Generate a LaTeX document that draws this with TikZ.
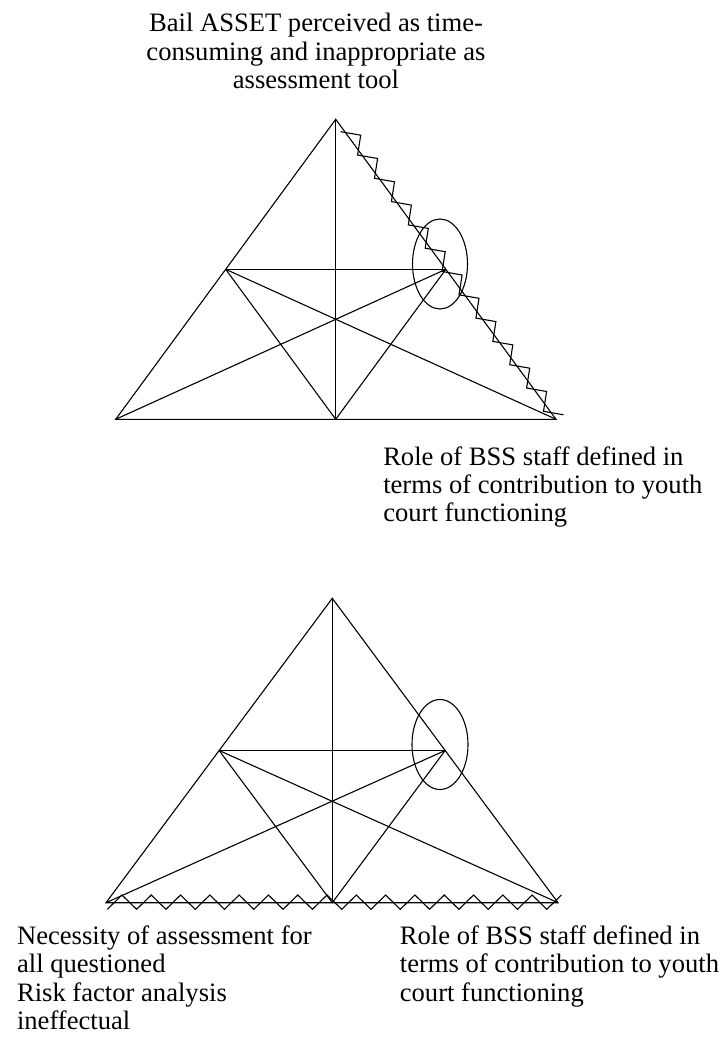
\documentclass[tikz,border=0pt]{standalone}
\usepackage{fontspec}
\setmainfont{Liberation Serif}
\usetikzlibrary{calc}
\begin{document}
\begin{tikzpicture}[x=1pt,y=-1pt,line width=1.1pt,line join=miter,
  lbl/.style={inner sep=0pt,font=\fontsize{26.6}{28.4}\selectfont}]
\useasboundingbox (0,0) rectangle (723,1040);
% ---------- top triangle ----------
\coordinate (A1) at (335.7,119.3);
\coordinate (L1) at (115.7,419.3);
\coordinate (R1) at (556,419.3);
\coordinate (M1) at (335.7,419.3);
\coordinate (P1) at ($(A1)!0.5!(L1)$);
\coordinate (Q1) at ($(A1)!0.5!(R1)$);
\draw (A1) -- (L1) -- (R1) -- cycle;
\draw (A1) -- (M1);
\draw (P1) -- (Q1);
\draw (P1) -- (M1) -- (Q1);
\draw (L1) -- (Q1);
\draw (P1) -- (R1);
\draw (440,264) ellipse [x radius=27.5pt, y radius=45pt];
% staircase along right side
\draw (340.7,131.7) \foreach \i in {1,...,12}{ -- ++(20,3.5) -- ({340.7+16.9*\i},{131.7+23.3*\i}) } -- ++(20,3.5);
% ---------- bottom triangle ----------
\coordinate (A2) at (332.3,598.3);
\coordinate (L2) at (106,902.7);
\coordinate (R2) at (558,902.7);
\coordinate (M2) at (332.3,902.7);
\coordinate (P2) at ($(A2)!0.5!(L2)$);
\coordinate (Q2) at ($(A2)!0.5!(R2)$);
\draw (A2) -- (L2) -- (R2) -- cycle;
\draw (A2) -- (M2);
\draw (P2) -- (Q2);
\draw (P2) -- (M2) -- (Q2);
\draw (L2) -- (Q2);
\draw (P2) -- (R2);
\draw (440,744.5) ellipse [x radius=28pt, y radius=45pt];
% zigzag along base
\draw (107.3,909.3) \foreach \i in {0,...,14}{ -- ({107.3+14.65*(2*\i+1)},895) -- ({107.3+14.65*(2*\i+2)},909.3) } -- ({107.3+14.65*31},895);
% ---------- labels ----------
\node[lbl,anchor=base] (t1) at (316,31.7) {\begin{tabular}[t]{@{}c@{}}Bail ASSET perceived as time-\\consuming and inappropriate as\\assessment tool\end{tabular}};
\node[lbl,anchor=base west] (t2) at (382.7,465) {\begin{tabular}[t]{@{}l@{}}Role of BSS staff defined in\\terms of contribution to youth\\court functioning\end{tabular}};
\node[lbl,anchor=base west] (t3) at (16.5,944.5) {\begin{tabular}[t]{@{}l@{}}Necessity of assessment for\\all questioned\\Risk factor analysis\\ineffectual\end{tabular}};
\node[lbl,anchor=base west] (t4) at (399.3,944.3) {\begin{tabular}[t]{@{}l@{}}Role of BSS staff defined in\\terms of contribution to youth\\court functioning\end{tabular}};
\end{tikzpicture}
\end{document}
